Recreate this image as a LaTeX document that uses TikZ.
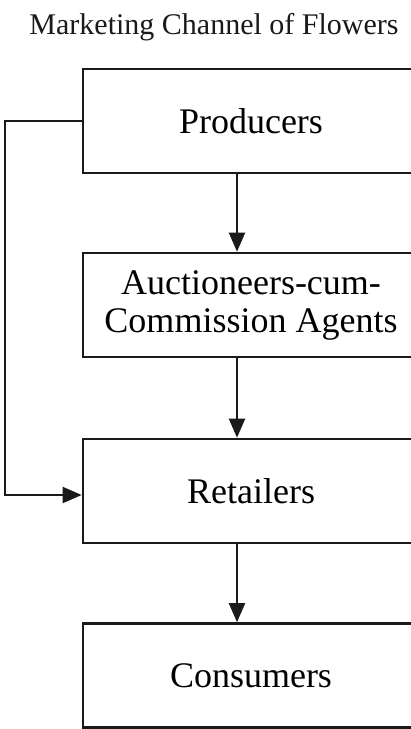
\documentclass[tikz,border=0pt]{standalone}
\usepackage{fontspec}
\setmainfont{Liberation Serif}
\usepackage{tikz}
\usetikzlibrary{arrows.meta,positioning,calc}
\definecolor{ink}{HTML}{1A1A1A}
\tikzset{
  chanbox/.style={draw=ink,fill=white,line width=2.6pt,minimum width=336pt,
                  minimum height=104pt,align=center,inner sep=0pt,
                  font=\fontsize{36}{38}\selectfont},
  chanarr/.style={-{Triangle[length=19pt,width=16pt]},line width=2pt,draw=ink},
  titletext/.style={font=\fontsize{30}{34}\selectfont,text=ink}
}
\begin{document}
\begin{tikzpicture}[x=1pt,y=-1pt]
    \path[use as bounding box] (0,0) rectangle (411,729);
    \node[titletext] (title) at (214,27) {Marketing Channel of Flowers};
    \node[chanbox] (prod) at (251,121) {Producers};
    \node[chanbox] (auct) at (251,305) {Auctioneers-cum-\\Commission Agents};
    \node[chanbox] (ret) at (251,491) {Retailers};
    \node[chanbox] (cons) at (251,675.5) {Consumers};
    \coordinate (axis) at (237,0);
    \coordinate (side) at (5,0);
    \draw[chanarr] (prod.south -| axis) -- (auct.north -| axis);
    \draw[chanarr] (auct.south -| axis) -- (ret.north -| axis);
    \draw[chanarr] (ret.south -| axis) -- (cons.north -| axis);
    \draw[chanarr] (prod.west) -- (prod.west -| side) |- ([yshift=-4pt]ret.west);
  \end{tikzpicture}
\end{document}
